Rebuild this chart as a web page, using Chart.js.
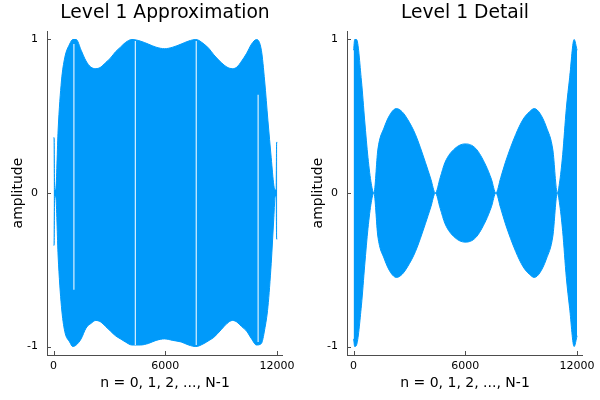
<!DOCTYPE html>
<html>
<head>
<meta charset="utf-8">
<script src="https://cdn.jsdelivr.net/npm/chart.js@4/dist/chart.umd.min.js"></script>
<style>
    html, body { margin: 0; padding: 0; background: #fff; }
    .row { display: flex; width: 600px; height: 400px; }
    .cell { width: 300px; height: 400px; }
</style>
</head>
<body>
<div class="row">
    <div class="cell"><canvas id="approxChart" width="300" height="400"></canvas></div>
    <div class="cell"><canvas id="detailChart" width="300" height="400"></canvas></div>
</div>
<script>
// envelope of the approximation signal (upper / lower amplitude at sample n)
const approxN = [0, 30, 55, 121, 243, 422, 597, 861, 1035, 1214, 1478, 1742, 2000, 2270, 2530, 2798, 3060, 3326, 3590, 3854, 4206, 4650, 5086, 5500, 5966, 6400, 6846, 7250, 7638, 8078, 8350, 8606, 9000, 9310, 9600, 9838, 10100, 10366, 10630, 10893, 11157, 11333, 11510, 11685, 11826, 11900, 11950, 11975, 12010];
const approxUpper = [0.36, 0.36, 0.02, 0.03, 0.41, 0.73, 0.88, 0.97, 1.0, 1.0, 0.93, 0.86, 0.82, 0.81, 0.82, 0.85, 0.88, 0.92, 0.95, 0.98, 1.0, 0.99, 0.97, 0.95, 0.94, 0.95, 0.97, 0.99, 1.0, 0.97, 0.94, 0.90, 0.85, 0.82, 0.81, 0.82, 0.86, 0.91, 0.97, 1.0, 0.93, 0.73, 0.47, 0.23, 0.05, 0.02, 0.02, 0.33, 0.33];
const approxLower = [-0.34, -0.34, -0.02, -0.03, -0.41, -0.74, -0.90, -0.97, -1.0, -0.99, -0.95, -0.88, -0.85, -0.83, -0.84, -0.87, -0.90, -0.93, -0.95, -0.97, -0.99, -0.99, -0.98, -0.96, -0.95, -0.96, -0.97, -0.99, -1.0, -0.98, -0.96, -0.94, -0.89, -0.85, -0.83, -0.84, -0.87, -0.90, -0.95, -0.99, -0.98, -0.89, -0.74, -0.46, -0.16, -0.02, -0.02, -0.30, -0.30];

// thin white gaps that run through the approximation band
const approxGapN = [1090, 4390, 7660, 10982];
const approxGapTop = [0.97, 0.99, 0.99, 0.64];
const approxGapBottom = [-0.63, -0.99, -0.99, -0.97];

// envelope of the detail signal
const detailN = [0, 60, 158, 422, 597, 773, 950, 1090, 1300, 1652, 2000, 2300, 2600, 2900, 3326, 3854, 4150, 4390, 4650, 4910, 5438, 6000, 6560, 7100, 7400, 7640, 7900, 8150, 8700, 9100, 9450, 9700, 10000, 10350, 10700, 10940, 11050, 11227, 11422, 11600, 11842, 12000];
const detailUpper = [0.93, 1.0, 1.0, 0.73, 0.47, 0.23, 0.06, 0.0, 0.28, 0.43, 0.52, 0.55, 0.53, 0.48, 0.38, 0.20, 0.09, 0.0, 0.10, 0.20, 0.29, 0.32, 0.29, 0.18, 0.09, 0.0, 0.10, 0.20, 0.38, 0.48, 0.53, 0.55, 0.52, 0.43, 0.28, 0.0, 0.06, 0.25, 0.55, 0.75, 1.0, 0.93];
const detailLower = [-0.95, -1.0, -0.99, -0.73, -0.47, -0.23, -0.06, 0.0, -0.28, -0.43, -0.52, -0.55, -0.53, -0.48, -0.38, -0.20, -0.09, 0.0, -0.10, -0.20, -0.29, -0.32, -0.29, -0.18, -0.09, 0.0, -0.10, -0.20, -0.38, -0.48, -0.53, -0.55, -0.52, -0.43, -0.28, 0.0, -0.06, -0.25, -0.55, -0.75, -1.0, -0.93];

const xTicks = [0, 6000, 12000];
const yTicks = [-1, 0, 1];

const SERIES_COLOR = '#009AFA';
const AXIS_COLOR = '#4d4d4d';
const FONT = '"DejaVu Sans", sans-serif';

Chart.defaults.font.family = FONT;
Chart.defaults.color = '#000';

// 把数组配对成点
function toPoints(xs, ys) {
    return xs.map((x, i) => ({ x: x, y: ys[i] }));
}

// 刻度线朝内画，和原图一致
const innerTicks = {
    id: 'innerTicks',
    afterDraw(chart) {
        const { ctx, chartArea, scales } = chart;
        ctx.save();
        ctx.strokeStyle = AXIS_COLOR;
        ctx.lineWidth = 1;
        ctx.beginPath();
        yTicks.forEach(v => {
            const y = Math.round(scales.y.getPixelForValue(v)) + 0.5;
            ctx.moveTo(chartArea.left, y);
            ctx.lineTo(chartArea.left + 4, y);
        });
        xTicks.forEach(v => {
            const x = Math.round(scales.x.getPixelForValue(v)) + 0.5;
            ctx.moveTo(x, chartArea.bottom);
            ctx.lineTo(x, chartArea.bottom - 4);
        });
        ctx.stroke();
        ctx.restore();
    }
};

// 白色细缝
const gapLines = {
    id: 'gapLines',
    afterDatasetsDraw(chart, args, opts) {
        if (!opts.xs) return;
        const { ctx, scales } = chart;
        ctx.save();
        ctx.strokeStyle = 'rgba(255,255,255,0.85)';
        ctx.lineWidth = 1.2;
        ctx.beginPath();
        opts.xs.forEach((v, i) => {
            const x = scales.x.getPixelForValue(v);
            ctx.moveTo(x, scales.y.getPixelForValue(opts.tops[i]));
            ctx.lineTo(x, scales.y.getPixelForValue(opts.bottoms[i]));
        });
        ctx.stroke();
        ctx.restore();
    }
};

function makeChart(id, title, xs, upper, lower, gaps) {
    const ctx = document.getElementById(id).getContext('2d');
    return new Chart(ctx, {
        type: 'line',
        data: {
            datasets: [
                {
                    data: toPoints(xs, upper),
                    borderColor: SERIES_COLOR,
                    backgroundColor: SERIES_COLOR,
                    borderWidth: 1,
                    pointRadius: 0,
                    cubicInterpolationMode: 'monotone',
                    fill: '+1'
                },
                {
                    data: toPoints(xs, lower),
                    borderColor: SERIES_COLOR,
                    backgroundColor: SERIES_COLOR,
                    borderWidth: 1,
                    pointRadius: 0,
                    cubicInterpolationMode: 'monotone',
                    fill: false
                }
            ]
        },
        options: {
            responsive: false,
            animation: false,
            devicePixelRatio: 1,
            layout: { padding: { left: 0, right: 13, top: 0, bottom: 0 } },
            plugins: {
                legend: { display: false },
                tooltip: { enabled: false },
                title: {
                    display: true,
                    text: title,
                    fullSize: false,
                    color: '#000',
                    font: { size: 18.7, weight: 'normal', lineHeight: 1.2 },
                    padding: { top: 2.4, bottom: 6.2 }
                },
                gapLines: gaps || {}
            },
            scales: {
                x: {
                    type: 'linear',
                    min: -354,
                    max: 12317,
                    afterBuildTicks: scale => { scale.ticks = xTicks.map(v => ({ value: v })); },
                    afterFit: scale => { scale.height = 45; },
                    grid: { display: true, drawOnChartArea: false, drawTicks: false },
                    border: { display: true, color: AXIS_COLOR, width: 1 },
                    ticks: {
                        autoSkip: false,
                        maxRotation: 0,
                        padding: 5,
                        color: '#000',
                        font: { size: 11 },
                        callback: v => String(v)
                    },
                    title: {
                        display: true,
                        text: 'n = 0, 1, 2, ..., N-1',
                        color: '#000',
                        font: { size: 14, lineHeight: 1.2 },
                        padding: { top: 0, bottom: 8 }
                    }
                },
                y: {
                    type: 'linear',
                    min: -1.055,
                    max: 1.055,
                    afterBuildTicks: scale => { scale.ticks = yTicks.map(v => ({ value: v })); },
                    afterFit: scale => { scale.width = 47; },
                    grid: { display: true, drawOnChartArea: false, drawTicks: false },
                    border: { display: true, color: AXIS_COLOR, width: 1 },
                    ticks: {
                        padding: 9,
                        color: '#000',
                        font: { size: 11 },
                        callback: v => String(v)
                    },
                    title: {
                        display: true,
                        text: 'amplitude',
                        color: '#000',
                        font: { size: 14, lineHeight: 1.2 },
                        padding: { top: 9.6, bottom: 0 }
                    }
                }
            }
        },
        plugins: [innerTicks, gapLines]
    });
}

document.addEventListener('DOMContentLoaded', () => {
    makeChart('approxChart', 'Level 1 Approximation', approxN, approxUpper, approxLower,
        { xs: approxGapN, tops: approxGapTop, bottoms: approxGapBottom });
    makeChart('detailChart', 'Level 1 Detail', detailN, detailUpper, detailLower, null);
});
</script>
</body>
</html>
